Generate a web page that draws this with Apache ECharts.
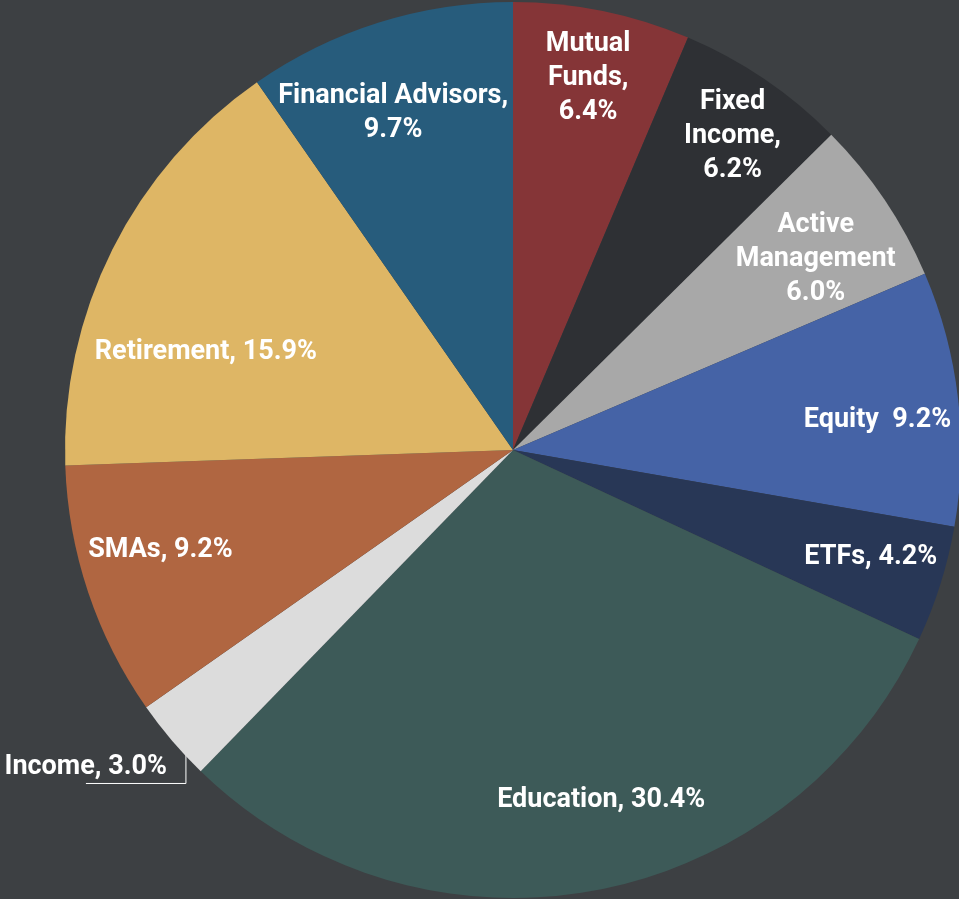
<!DOCTYPE html>
<html>
<head>
<meta charset="utf-8">
<script src="https://cdn.jsdelivr.net/npm/echarts@6/dist/echarts.min.js"></script>
<style>
html,body{margin:0;padding:0;background:#3d4043;}
#chart{width:959px;height:899px;}
</style>
</head>
<body>
<div id="chart"></div>
<script>
const categories = ['Mutual Funds','Fixed Income','Active Management','Equity','ETFs','Education','Income','SMAs','Retirement','Financial Advisors'];
const values = [6.4, 6.2, 6.0, 9.2, 4.2, 30.4, 3.0, 9.2, 15.9, 9.7];
const labelTexts = ['Mutual\nFunds,\n6.4%','Fixed\nIncome,\n6.2%','Active\nManagement\n6.0%','Equity  9.2%','ETFs, 4.2%','Education, 30.4%','Income, 3.0%','SMAs, 9.2%','Retirement, 15.9%','Financial Advisors,\n9.7%'];
const colors = ['#853537','#2e3034','#a8a8a8','#4563a6','#283756','#3d5a58','#dcdcdc','#b06641','#deb665','#275c7c'];
// fine label nudges [dx, dy] per category
const labelNudge = [[0,-2],[8,-2],[-10,20],[-10,14],[-2,-6],[20,-21],[0,0],[5,-19],[30,71],[-7,23]];

const CX = 513, CY = 450, R = 448;
const incomeIdx = categories.indexOf('Income');
const total = values.reduce((a,b)=>a+b,0);
let cum = 0; for (let i=0;i<incomeIdx;i++) cum += values[i];
const incMid = (cum + values[incomeIdx]/2) / total * 2 * Math.PI; // clockwise from top
const ax = CX + R*Math.sin(incMid), ay = CY - R*Math.cos(incMid);

const chart = echarts.init(document.getElementById('chart'));
const baseData = categories.map((c,i)=>({name:c, value:values[i], itemStyle:{color:colors[i]}}));
const labelData = categories.map((c,i)=>{
  const d = {name:c, value:values[i], itemStyle:{color:'rgba(0,0,0,0)'}};
  if (i === incomeIdx) {
    d.label = {position:'outside', overflow:'none', alignTo:'none'};
    d.labelLine = {show:true, lineStyle:{color:'#ffffff', width:1}};
  }
  return d;
});
chart.setOption({
  backgroundColor:'#3d4043',
  animation:false,
  series:[
    {type:'pie', center:[CX,CY], radius:[0,R], startAngle:90, clockwise:true,
     silent:true, label:{show:false}, labelLine:{show:false}, data:baseData},
    {type:'pie', center:[CX,CY], radius:[300,R], startAngle:90, clockwise:true,
     silent:true,
     label:{show:true, position:'inside', color:'#ffffff', fontFamily:'Roboto', fontWeight:'bold', fontSize:27, lineHeight:34, align:'center', overflow:'none',
       formatter:p=>labelTexts[p.dataIndex]},
     labelLine:{show:false},
     labelLayout:function(p){
       if (p.dataIndex === incomeIdx) {
         return {x: ax-5, y: ay+27, align:'right', verticalAlign:'middle', width:200,
           labelLinePoints:[[ax+14, ay-8],[ax+14, ay+43],[ax-86, ay+43]]};
       }
       const n = labelNudge[p.dataIndex];
       return {dx:n[0], dy:n[1]};
     },
     data:labelData}
  ]
});
</script>
</body>
</html>
